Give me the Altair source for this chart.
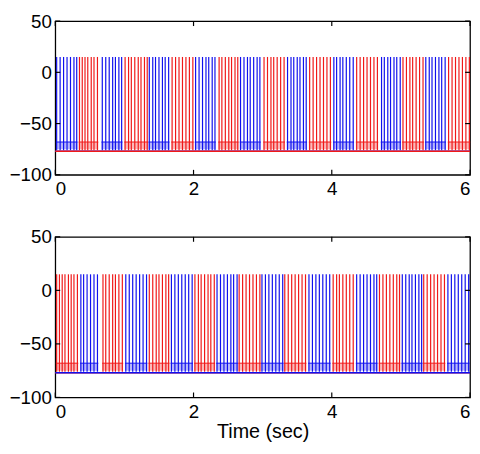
import altair as alt
import pandas as pd

# ---- spike times (sec) ----
top_blue = [0.02, 0.07, 0.12, 0.17, 0.22, 0.27, 0.31,
            0.68, 0.73, 0.78, 0.83, 0.87, 0.92, 0.96,
            1.36, 1.41, 1.45, 1.50, 1.55, 1.59, 1.64,
            2.03, 2.08, 2.13, 2.18, 2.22, 2.27, 2.31,
            2.68, 2.73, 2.78, 2.82, 2.87, 2.92, 2.96,
            3.36, 3.41, 3.45, 3.50, 3.54, 3.59, 3.63,
            4.03, 4.07, 4.12, 4.16, 4.21, 4.26, 4.31,
            4.72, 4.76, 4.81, 4.85, 4.90, 4.94, 4.99,
            5.36, 5.41, 5.45, 5.50, 5.55, 5.59, 5.64]
top_red = [0.35, 0.39, 0.43, 0.47, 0.52, 0.56, 0.61,
           1.01, 1.06, 1.10, 1.15, 1.20, 1.24, 1.29, 1.33,
           1.69, 1.74, 1.79, 1.84, 1.89, 1.94, 1.99,
           2.37, 2.41, 2.46, 2.51, 2.55, 2.60, 2.64,
           3.02, 3.07, 3.12, 3.16, 3.21, 3.26, 3.31,
           3.68, 3.73, 3.78, 3.83, 3.88, 3.93, 3.98,
           4.36, 4.41, 4.46, 4.51, 4.56, 4.61, 4.66,
           5.03, 5.08, 5.13, 5.17, 5.22, 5.27, 5.32,
           5.69, 5.74, 5.79, 5.84, 5.89, 5.94, 5.99]
bot_red = [0.02, 0.06, 0.10, 0.14, 0.19, 0.23, 0.27, 0.32,
           0.69, 0.73, 0.78, 0.83, 0.87, 0.92, 0.97,
           1.36, 1.41, 1.46, 1.50, 1.55, 1.60, 1.64,
           2.02, 2.07, 2.11, 2.16, 2.21, 2.25, 2.30,
           2.66, 2.71, 2.76, 2.81, 2.86, 2.91, 2.96,
           3.32, 3.37, 3.42, 3.47, 3.52, 3.57, 3.62,
           4.02, 4.07, 4.11, 4.16, 4.21, 4.26, 4.31,
           4.69, 4.74, 4.79, 4.84, 4.89, 4.94, 4.98,
           5.33, 5.38, 5.43, 5.48, 5.53, 5.58, 5.63]
bot_blue = [0.37, 0.41, 0.46, 0.51, 0.56, 0.61,
            1.02, 1.07, 1.12, 1.17, 1.22, 1.27, 1.32,
            1.68, 1.73, 1.78, 1.83, 1.88, 1.93, 1.98,
            2.34, 2.39, 2.44, 2.49, 2.54, 2.58, 2.63,
            2.99, 3.04, 3.09, 3.14, 3.19, 3.24, 3.29,
            3.67, 3.72, 3.77, 3.82, 3.87, 3.92, 3.97,
            4.36, 4.41, 4.46, 4.51, 4.56, 4.61, 4.65,
            5.02, 5.07, 5.12, 5.16, 5.21, 5.26, 5.30,
            5.68, 5.73, 5.78, 5.83, 5.88, 5.93, 5.98]

# voltage levels (mV)
spike_peak = 15
spike_trough = -76
rest_level = -77
burst_low = -75
burst_high = -68

x_ticks = [0, 2, 4, 6]
y_ticks = [-100, -50, 0, 50]

COLORS = {"blue": "#1010ee", "red": "#f01818"}

W = 421


def bursts(times):
    out = []
    start = prev = times[0]
    for t in times[1:]:
        if t - prev > 0.1:
            out.append((start, prev))
            start = t
        prev = t
    out.append((start, prev))
    return out


def panel(blue, red, order, show_title, H):
    xs = alt.Scale(domain=[0, 6], nice=False, zero=False)
    ys = alt.Scale(domain=[-100, 50], nice=False, zero=False)
    xaxis = alt.Axis(values=x_ticks, title="Time (sec)" if show_title else None,
                     labelFlush=True)
    yaxis = alt.Axis(values=y_ticks, title=None)
    cs = alt.Scale(domain=["blue", "red"], range=[COLORS["blue"], COLORS["red"]])
    trains = {"blue": blue, "red": red}

    layers = []
    for who in order:
        times = trains[who]
        sp = pd.DataFrame({"t": times, "lo": spike_trough, "hi": spike_peak, "who": who})
        bs = bursts(times)
        bd = pd.DataFrame({"t": [b[0] - 0.012 for b in bs], "t2": [b[1] + 0.012 for b in bs],
                           "lo": burst_low, "hi": burst_high, "who": who})
        band = alt.Chart(bd).mark_rect(opacity=0.3).encode(
            x=alt.X("t:Q", scale=xs, axis=xaxis), x2="t2:Q",
            y=alt.Y("lo:Q", scale=ys, axis=yaxis), y2="hi:Q",
            color=alt.Color("who:N", scale=cs, legend=None))
        mid = alt.Chart(bd).mark_rule(strokeWidth=1.0).encode(
            x=alt.X("t:Q", scale=xs, axis=xaxis), x2="t2:Q",
            y=alt.Y("hi:Q", scale=ys, axis=yaxis),
            color=alt.Color("who:N", scale=cs, legend=None))
        spikes = alt.Chart(sp).mark_rule(strokeWidth=1.2).encode(
            x=alt.X("t:Q", scale=xs, axis=xaxis),
            y=alt.Y("lo:Q", scale=ys, axis=yaxis), y2="hi:Q",
            color=alt.Color("who:N", scale=cs, legend=None))
        layers += [band, mid, spikes]
    for who in order:
        rd = pd.DataFrame({"v": [rest_level], "who": [who]})
        rest = alt.Chart(rd).mark_rule(strokeWidth=1.6).encode(
            x=alt.value(0), x2=alt.value(W),
            y=alt.Y("v:Q", scale=ys, axis=yaxis),
            color=alt.Color("who:N", scale=cs, legend=None))
        layers.append(rest)

    xt = pd.DataFrame({"t": x_ticks})
    yt = pd.DataFrame({"v": y_ticks})
    tb = alt.Chart(xt).mark_rule(color="black", strokeWidth=1.2).encode(
        x=alt.X("t:Q", scale=xs, axis=xaxis), y=alt.value(H), y2=alt.value(H - 5))
    tt = alt.Chart(xt).mark_rule(color="black", strokeWidth=1.2).encode(
        x=alt.X("t:Q", scale=xs, axis=xaxis), y=alt.value(0), y2=alt.value(5))
    tl = alt.Chart(yt).mark_rule(color="black", strokeWidth=1.2).encode(
        y=alt.Y("v:Q", scale=ys, axis=yaxis), x=alt.value(0), x2=alt.value(5))
    tr = alt.Chart(yt).mark_rule(color="black", strokeWidth=1.2).encode(
        y=alt.Y("v:Q", scale=ys, axis=yaxis), x=alt.value(W), x2=alt.value(W - 5))
    layers += [tb, tt, tl, tr]
    return alt.layer(*layers).properties(width=W, height=H)


top = panel(top_blue, top_red, ["blue", "red"], False, 156)
bottom = panel(bot_blue, bot_red, ["red", "blue"], True, 163)

chart = alt.vconcat(top, bottom, spacing=28).properties(
    padding={"top": 0, "left": 0, "right": 0, "bottom": 0},
    background="white",
).configure_view(
    stroke="black", strokeWidth=1.3
).configure_axis(
    domain=False, ticks=False, tickSize=0, grid=False,
    labelFont="Liberation Sans", labelFontSize=19, labelColor="black",
    titleFont="Liberation Sans", titleFontSize=20, titleFontWeight="normal",
    titleColor="black",
).configure_axisX(labelPadding=5, titlePadding=1).configure_axisY(labelPadding=4)

chart.save("out.html", embed_options={"renderer": "svg", "actions": False})
